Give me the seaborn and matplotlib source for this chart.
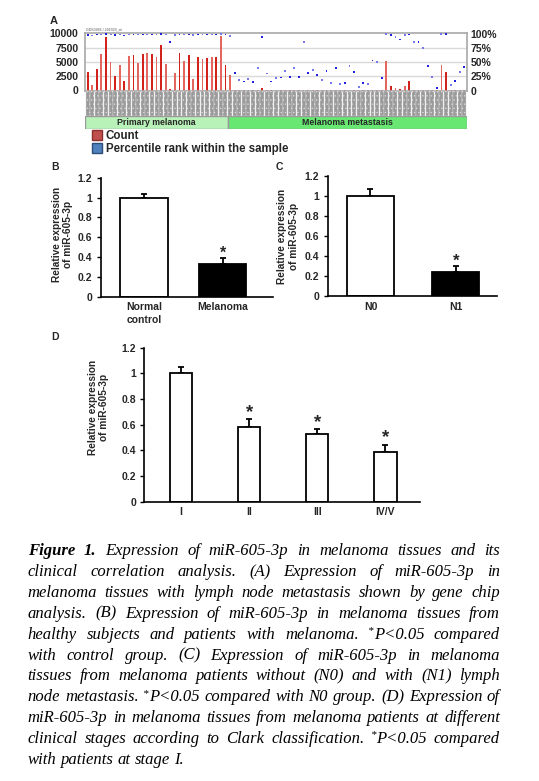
import numpy as np
import pandas as pd
import matplotlib
matplotlib.use("Agg")
import matplotlib.pyplot as plt
from matplotlib.patches import Patch
import seaborn as sns

W, H = 539, 781

# ---------------- data ----------------
# panel A: GEO profile, 31 primary melanoma + 52 metastasis samples
primary_counts = [3300, 1000, 3700, 6400, 9400, 5000, 2600, 4400, 1600, 6000,
                  6200, 4800, 6300, 6600, 6300, 5900, 7900, 4600, 200, 3100,
                  6500, 5200, 6200, 2000, 5800, 5500, 5700, 5800, 5900, 9600, 4500]
metastasis_counts = [2700, 100, 80, 120, 90, 100, 110, 350, 90, 100,
                     80, 120, 100, 90, 110, 100, 80, 100, 120, 90,
                     100, 110, 80, 100, 90, 120, 100, 80, 90, 110,
                     100, 90, 100, 120, 5200, 700, 400, 250, 800, 1700,
                     100, 90, 110, 80, 100, 120, 4500, 3300, 100, 90,
                     110, 100]
primary_pct = [98, 97, 99, 99, 100, 99, 98, 99, 97, 99,
               99, 99, 99, 99, 99, 99, 100, 99, 85, 98,
               99, 99, 99, 98, 99, 99, 99, 99, 99, 100, 99]
metastasis_pct = [96, 31, 18, 16, 20, 15, 39, 94, 30, 16,
                  22, 23, 35, 24, 40, 24, 86, 31, 36, 27,
                  19, 35, 14, 40, 11, 13, 43, 33, 6, 14,
                  12, 53, 50, 22, 100, 98, 95, 90, 98, 99,
                  86, 85, 75, 44, 24, 4, 100, 100, 10, 17,
                  32, 42]
group_names = ["Primary melanoma", "Melanoma metastasis"]
count_ticks = [0, 2500, 5000, 7500, 10000]
pct_ticks = [0, 25, 50, 75, 100]
pct_labels = ["0", "25%", "50%", "75%", "100%"]

# panel B
b_groups = ["Normal\ncontrol", "Melanoma"]
b_means = [1.0, 0.33]
b_err = [0.035, 0.065]
# panel C
c_groups = ["N0", "N1"]
c_means = [1.0, 0.24]
c_err = [0.07, 0.06]
# panel D
d_groups = ["I", "II", "III", "IV/V"]
d_means = [1.0, 0.58, 0.53, 0.39]
d_err = [0.05, 0.065, 0.035, 0.055]

caption_lines = [
    "Figure 1. Expression of miR-605-3p in melanoma tissues and its",
    "clinical correlation analysis. (A) Expression of miR-605-3p in",
    "melanoma tissues with lymph node metastasis shown by gene chip",
    "analysis. (B) Expression of miR-605-3p in melanoma tissues from",
    "healthy subjects and patients with melanoma. *P<0.05 compared",
    "with control group. (C) Expression of miR-605-3p in melanoma",
    "tissues from melanoma patients without (N0) and with (N1) lymph",
    "node metastasis. *P<0.05 compared with N0 group. (D) Expression of",
    "miR-605-3p in melanoma tissues from melanoma patients at different",
    "clinical stages according to Clark classification. *P<0.05 compared",
    "with patients at stage I.",
]

# ---------------- style ----------------
sns.set_theme(style="ticks")
plt.rcParams["font.family"] = ["Liberation Sans", "DejaVu Sans"]
plt.rcParams["font.weight"] = "bold"
plt.rcParams["axes.labelweight"] = "bold"
plt.rcParams["hatch.linewidth"] = 0.4
plt.rcParams["hatch.color"] = "#e0e0e0"

fig = plt.figure(figsize=(W / 100, H / 100), dpi=100)
fig.patch.set_facecolor("white")


def px_axes(l, t, r, b):
    return fig.add_axes([l / W, 1 - b / H, (r - l) / W, (b - t) / H])


def fx(x):
    return x / W


def fy(y):
    return 1 - y / H


# ---------------- panel A ----------------
counts = primary_counts + metastasis_counts
pct = primary_pct + metastasis_pct
n = len(counts)
n_prim = len(primary_counts)
dfa = pd.DataFrame({"sample": [f"s{i}" for i in range(n)], "count": counts, "pct": pct})
bar_cols = ["#d2221c" if i % 2 == 0 else "#e4675f" for i in range(n)]
dot_cols = ["#2020e0" if i % 2 == 0 else "#7878ee" for i in range(n)]

axA = px_axes(85.3, 33.3, 466.7, 90.5)
sns.barplot(data=dfa, x="sample", y="count", hue="sample", palette=bar_cols,
            legend=False, dodge=False, width=0.4, saturation=1, linewidth=0,
            ax=axA, zorder=2)
axA.set_xlim(-0.5, n - 0.5)
axA.set_ylim(0, 10000)
for v in count_ticks[1:-1]:
    axA.axhline(v, color="#d9d9d9", lw=1, zorder=0)
axA.set_yticks(count_ticks)
axA.set_yticklabels([str(v) for v in count_ticks], fontsize=7.5)
axA.tick_params(axis="y", length=0, pad=5)
axA.set_xticks([])
axA.set_xlabel("")
axA.set_ylabel("")
for s in axA.spines.values():
    s.set_color("#a8a8a8")
    s.set_linewidth(1.2)

ax2 = axA.twinx()
sns.scatterplot(x=np.arange(n), y=pct, hue=dfa["sample"], palette=dot_cols,
                legend=False, marker="s", s=1.8, linewidth=0, ax=ax2, zorder=3)
ax2.set_xlim(-0.5, n - 0.5)
ax2.set_ylim(0, 101)
ax2.set_yticks(pct_ticks)
ax2.set_yticklabels(pct_labels, fontsize=7.5)
ax2.tick_params(axis="y", length=0, pad=3)
ax2.set_ylabel("")
for s in ax2.spines.values():
    s.set_visible(False)

fig.text(fx(85.5), fy(29), "GDS3966 / 291929_at", fontsize=2.6, weight="normal",
         color="#555555", va="center", ha="left")
fig.text(fx(53.5), fy(21), "A", fontsize=8, ha="center", va="center")

# sample label strip
axS = px_axes(85.3, 90.5, 466.7, 115.5)
sns.barplot(x=dfa["sample"], y=np.ones(n), color="#9a9a9a", width=0.86,
            saturation=1, edgecolor="#dcdcdc", linewidth=0.3, hatch="....", ax=axS)
axS.set_xlim(-0.5, n - 0.5)
axS.set_ylim(0, 1)
axS.axis("off")

# group bar
axG = px_axes(85.3, 116, 466.7, 129)
axG.barh(0, n_prim, left=-0.5, height=1, color="#b8f2b8", edgecolor="#9a9a9a", lw=1)
axG.barh(0, n - n_prim, left=n_prim - 0.5, height=1, color="#68e872",
         edgecolor="#9a9a9a", lw=1)
axG.text((n_prim - 1) / 2, 0, group_names[0], ha="center", va="center", fontsize=6.3)
axG.text(n_prim - 0.5 + (n - n_prim) / 2, 0, group_names[1], ha="center",
         va="center", fontsize=6.3)
axG.set_xlim(-0.5, n - 0.5)
axG.set_ylim(-0.5, 0.5)
axG.axis("off")

fig.legend(handles=[Patch(fc="#c0504d", ec="#8b2f2c", label="Count"),
                    Patch(fc="#4f81bd", ec="#2c4d75", label="Percentile rank within the sample")],
           loc="upper left", bbox_to_anchor=(fx(92), fy(130)), frameon=False,
           handlelength=0.9, handleheight=0.9, handletextpad=0.3, labelspacing=0.1,
           borderpad=0, borderaxespad=0, prop={"weight": "bold", "size": 8.3})


# ---------------- panels B, C, D ----------------
def expr_panel(ax, groups, means, errs, fills, width, xlim, star_size, star_off):
    d = pd.DataFrame({"g": groups, "v": means})
    sns.barplot(data=d, x="g", y="v", hue="g", palette=fills, legend=False,
                dodge=False, width=width, edgecolor="black", linewidth=1.3,
                saturation=1, ax=ax, zorder=2)
    xs = np.arange(len(groups))
    ax.errorbar(xs, means, yerr=[np.zeros(len(errs)), errs], fmt="none",
                ecolor="black", elinewidth=1.3, capsize=2.5, capthick=1.3, zorder=1)
    for i in xs[1:]:
        ax.annotate("*", (i, means[i] + errs[i]), xytext=(0, star_off),
                    textcoords="offset points", ha="center", va="baseline",
                    fontsize=star_size, weight="bold")
    ax.set_xlim(*xlim)
    ax.set_ylim(0, 1.2)
    ax.set_yticks([0, 0.2, 0.4, 0.6, 0.8, 1.0, 1.2])
    ax.set_yticklabels(["0", "0.2", "0.4", "0.6", "0.8", "1", "1.2"], fontsize=7.5)
    ax.tick_params(axis="y", length=3, width=1, direction="out", pad=3, color="black")
    ax.tick_params(axis="x", length=0, pad=4, labelsize=7.5)
    for lab in ax.get_xticklabels():
        lab.set_linespacing(1.35)
    ax.set_xlabel("")
    ax.set_ylabel("")
    sns.despine(ax=ax)
    for s in ("left", "bottom"):
        ax.spines[s].set_color("black")
        ax.spines[s].set_linewidth(1.2)


axB = px_axes(100.7, 177.7, 273, 296.7)
expr_panel(axB, b_groups, b_means, b_err, ["white", "black"], 0.6, (-0.55, 1.64), 11.5, 0)
axC = px_axes(327.7, 175.7, 497.3, 296.3)
expr_panel(axC, c_groups, c_means, c_err, ["white", "black"], 0.55, (-0.5, 1.484), 12, 0)
axD = px_axes(144.3, 347.7, 420, 501.7)
expr_panel(axD, d_groups, d_means, d_err, ["white"] * 4, 0.33, (-0.54, 3.51), 13.5, 1.5)

ylab = "Relative expression\nof miR-605-3p"
for (x, y) in [(62.5, 234), (288, 236.5), (98.5, 407.5)]:
    fig.text(fx(x), fy(y), ylab, rotation=90, ha="center", va="center",
             fontsize=7.3, multialignment="center", linespacing=1.2)
fig.text(fx(55), fy(166.5), "B", fontsize=7.5, ha="center", va="center")
fig.text(fx(279), fy(166.5), "C", fontsize=7.5, ha="center", va="center")
fig.text(fx(54.5), fy(337), "D", fontsize=7.5, ha="center", va="center")

# ---------------- caption (justified) ----------------
renderer = fig.canvas.get_renderer()
cap_left, cap_right = 27.7, 500.0
cap_base, cap_dy = 555.0, 20.9
cap_font = ["Liberation Serif", "DejaVu Serif"]
cap_size = 12


def word_parts(word, bold):
    # returns list of (text, size, raise_px, weight)
    w = "bold" if bold else "normal"
    if word.startswith("*"):
        return [("*", 8, 5.5, w), (word[1:], cap_size, 0, w)]
    return [(word, cap_size, 0, w)]


for li, line in enumerate(caption_lines):
    words = line.split(" ")
    yb = cap_base + li * cap_dy
    parts = []
    widths = []
    for wi, word in enumerate(words):
        bold = li == 0 and wi < 2
        items = []
        ww = 0
        for txt, size, rise, weight in word_parts(word, bold):
            t = fig.text(0, fy(yb) + rise / H, txt, fontsize=size, style="italic",
                         weight=weight, family=cap_font, ha="left", va="baseline",
                         color="black")
            wpx = t.get_window_extent(renderer).width
            items.append((t, ww))
            ww += wpx
        parts.append(items)
        widths.append(ww)
    total = sum(widths)
    if li < len(caption_lines) - 1 and len(words) > 1:
        gap = (cap_right - cap_left - total) / (len(words) - 1)
    else:
        gap = 0.25 * cap_size * 100 / 72
    x = cap_left
    for items, ww in zip(parts, widths):
        for t, off in items:
            t.set_x(fx(x + off))
        x += ww + gap

fig.savefig("out.png", dpi=100, facecolor="white")
